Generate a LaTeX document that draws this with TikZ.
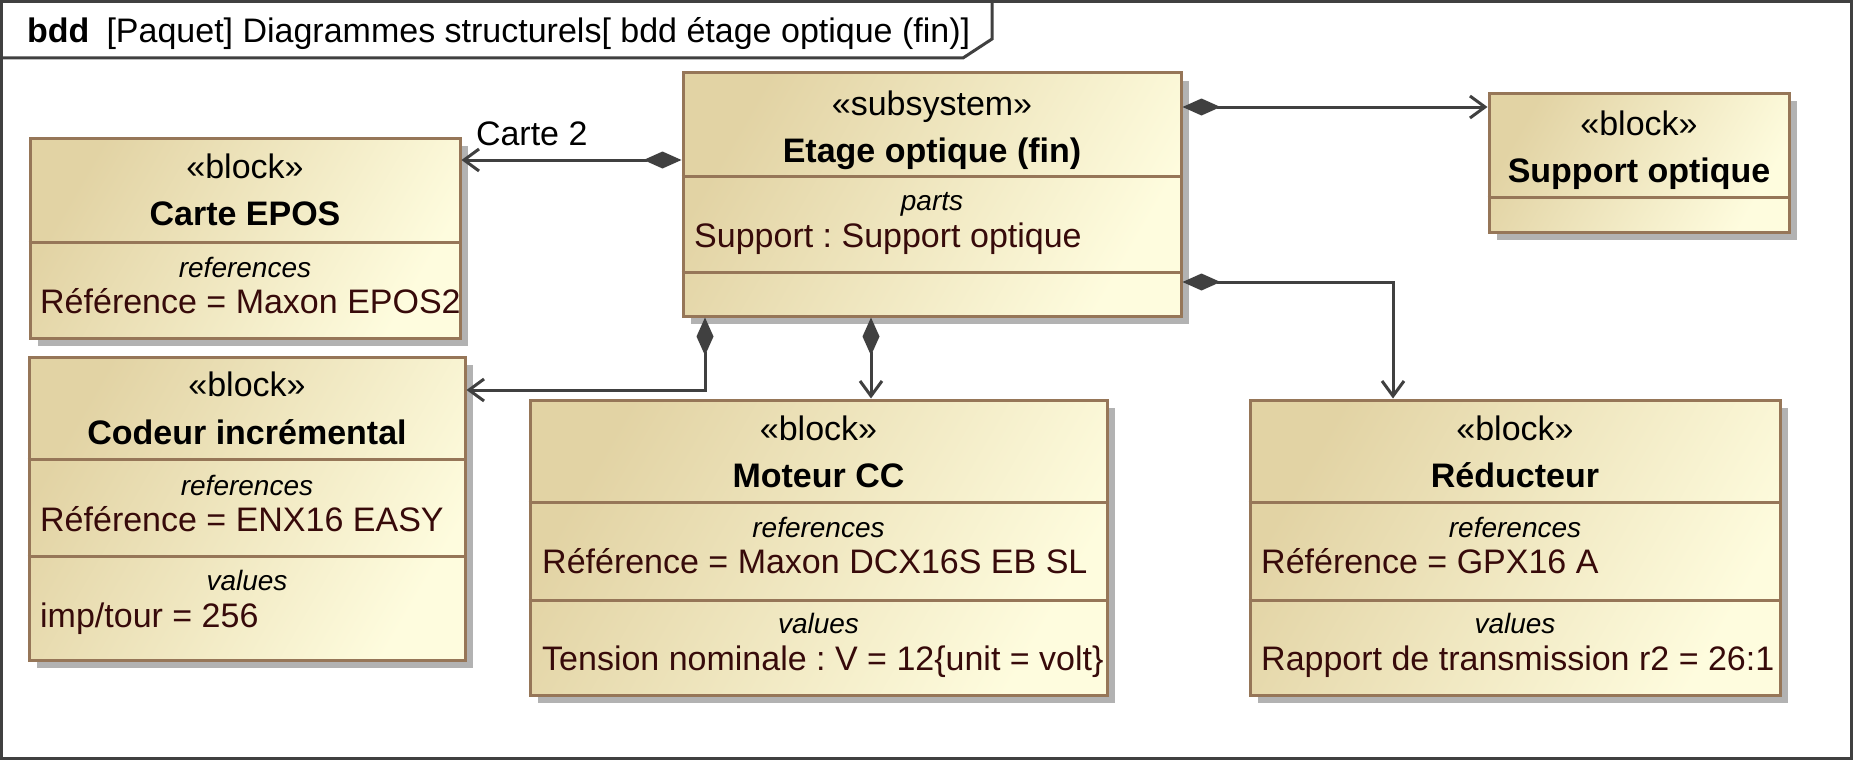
\documentclass[tikz,border=0pt]{standalone}
\usepackage{fontspec}
\setmainfont{Liberation Sans}
\usetikzlibrary{arrows.meta,shadows}
\frenchspacing

\definecolor{blocL}{RGB}{226,211,164}
\definecolor{blocR}{RGB}{254,252,222}
\definecolor{bord}{RGB}{150,118,88}
\definecolor{trait}{RGB}{64,64,64}
\definecolor{texte}{RGB}{55,10,10}

\tikzset{
	bloc/.style={draw=bord, line width=3pt, left color=blocL, right color=blocR, shading angle=60, inner sep=0pt,
		drop shadow={shadow xshift=8pt, shadow yshift=-8pt, fill=black!30, opacity=1}},
	sep/.style={draw=bord, line width=3pt},
	stereo/.style={anchor=base, inner sep=0pt, font=\fontsize{34}{40}\selectfont},
	titre/.style={anchor=base, inner sep=0pt, font=\fontsize{34}{40}\selectfont\bfseries},
	compart/.style={anchor=base, inner sep=0pt, font=\fontsize{28}{34}\selectfont\itshape},
	valeur/.style={anchor=base west, inner sep=0pt, text=texte, font=\fontsize{34}{40}\selectfont},
	compo/.style={draw=trait, line width=3pt, {Diamond[length=38pt,width=17pt]}-{Straight Barb[length=15pt,width=22pt]}},
	cadre/.style={draw=trait, line width=3pt},
}

\begin{document}
\begin{tikzpicture}[x=1pt,y=-1pt]
	\useasboundingbox (0,0) rectangle (1853,760);
	
	% cadre du diagramme
	\draw[cadre] (1.5,1.5) rectangle (1851.5,758.5);
	\draw[cadre] (1.5,58) -- (963,58) -- (992,39) -- (992,1.5);
	\node[anchor=base west, inner sep=0pt, font=\fontsize{34}{40}\selectfont] (H) at (27,43)
	{\textbf{bdd}\hspace{0.5em}[Paquet] Diagrammes structurels[ bdd étage optique (fin)]};
	
	% blocs
	\node (EO)[bloc, minimum width=498pt, minimum height=243pt] at (932,194.5) {};
	\node (SO)[bloc, minimum width=300pt, minimum height=139pt] at (1639,162.5) {};
	\node (CE)[bloc, minimum width=430pt, minimum height=200pt] at (245,238) {};
	\node (CI)[bloc, minimum width=436pt, minimum height=303pt] at (247,508.5) {};
	\node (MC)[bloc, minimum width=577pt, minimum height=295pt] at (818.5,547.5) {};
	\node (RD)[bloc, minimum width=530pt, minimum height=295pt] at (1515,547.5) {};
	
	% compartiments
	\draw[sep] (EO.west |- 0,176) -- (EO.east |- 0,176);
	\draw[sep] (EO.west |- 0,272) -- (EO.east |- 0,272);
	\draw[sep] (SO.west |- 0,197) -- (SO.east |- 0,197);
	\draw[sep] (CE.west |- 0,242) -- (CE.east |- 0,242);
	\draw[sep] (CI.west |- 0,459) -- (CI.east |- 0,459);
	\draw[sep] (CI.west |- 0,556) -- (CI.east |- 0,556);
	\draw[sep] (MC.west |- 0,502) -- (MC.east |- 0,502);
	\draw[sep] (MC.west |- 0,600) -- (MC.east |- 0,600);
	\draw[sep] (RD.west |- 0,502) -- (RD.east |- 0,502);
	\draw[sep] (RD.west |- 0,600) -- (RD.east |- 0,600);
	
	% textes
	\node (EOs)[stereo] at (932,115) {«subsystem»};
	\node (EOt)[titre] at (932,162) {Etage optique (fin)};
	\node (EOp)[compart] at (932,210) {parts};
	\node (EOv)[valeur] at (694,247) {Support : Support optique};
	
	\node (SOs)[stereo] at (1639,135) {«block»};
	\node (SOt)[titre] at (1639,182) {Support optique};
	
	\node (CEs)[stereo] at (245,178) {«block»};
	\node (CEt)[titre] at (245,225) {Carte EPOS};
	\node (CEr)[compart] at (245,277) {references};
	\node (CEv)[valeur] at (40,313) {Référence = Maxon EPOS2};
	
	\node (CIs)[stereo] at (247,396) {«block»};
	\node (CIt)[titre] at (247,444) {Codeur incrémental};
	\node (CIr)[compart] at (247,495) {references};
	\node (CIv)[valeur] at (40,531) {Référence = ENX16 EASY};
	\node (CIw)[compart] at (247,590) {values};
	\node (CIx)[valeur] at (40,627) {imp/tour = 256};
	
	\node (MCs)[stereo] at (818.5,440) {«block»};
	\node (MCt)[titre] at (818.5,487) {Moteur CC};
	\node (MCr)[compart] at (818.5,537) {references};
	\node (MCv)[valeur] at (542,573) {Référence = Maxon DCX16S EB SL};
	\node (MCw)[compart] at (818.5,633) {values};
	\node (MCx)[valeur] at (542,670) {Tension nominale : V = 12\{unit = volt\}};
	
	\node (RDs)[stereo] at (1515,440) {«block»};
	\node (RDt)[titre] at (1515,487) {Réducteur};
	\node (RDr)[compart] at (1515,537) {references};
	\node (RDv)[valeur] at (1261,573) {Référence = GPX16 A};
	\node (RDw)[compart] at (1515,633) {values};
	\node (RDx)[valeur] at (1261,670) {Rapport de transmission r2 = 26:1};
	
	% compositions
	\draw[compo] 
	(EO.west |- 0,160) -- (CE.east |- 0,160)
	node[pos=1, anchor=base west, inner sep=0pt, xshift=13pt, yshift=15pt, font=\fontsize{34}{40}\selectfont] {Carte 2};
	
	\draw[compo] (EO.south -| 705,0) |- (CI.east |- 0,390);
	
	\draw[compo] (EO.south -| 871,0) -- (MC.north -| 871,0);
	
	\draw[compo] (EO.east |- 0,107) -- (SO.west |- 0,107);
	
	\draw[compo] (EO.east |- 0,282) -| (RD.north -| 1393,0);
\end{tikzpicture}
\end{document}
